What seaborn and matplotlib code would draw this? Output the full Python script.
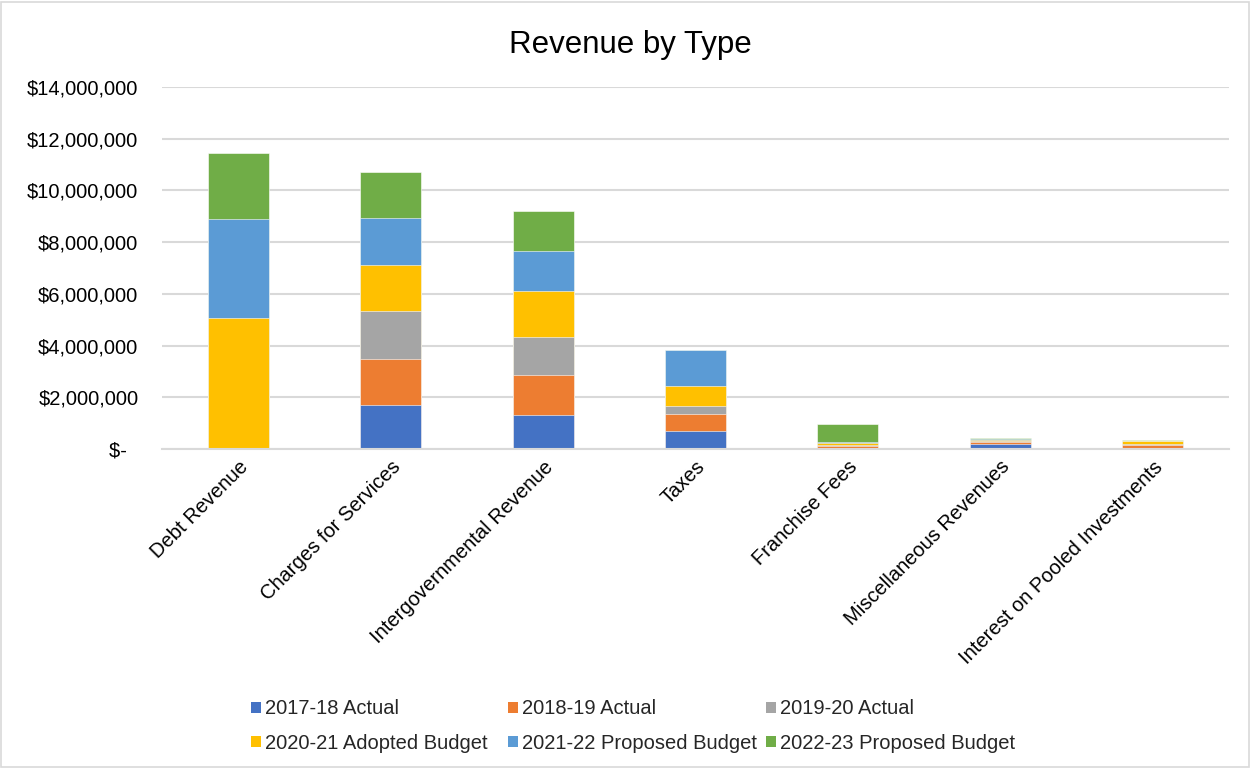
import matplotlib
matplotlib.use("Agg")
import matplotlib.pyplot as plt
from matplotlib.patches import Patch, Rectangle
from matplotlib.ticker import FuncFormatter, MultipleLocator
import seaborn as sns
import pandas as pd
import numpy as np

categories = ["Debt Revenue", "Charges for Services", "Intergovernmental Revenue",
              "Taxes", "Franchise Fees", "Miscellaneous Revenues",
              "Interest on Pooled Investments"]
series_names = ["2017-18 Actual", "2018-19 Actual", "2019-20 Actual",
                "2020-21 Adopted Budget", "2021-22 Proposed Budget",
                "2022-23 Proposed Budget"]

actual_2017_18 = [0, 1700000, 1300000, 710000, 30000, 200000, 30000]
actual_2018_19 = [0, 1770000, 1550000, 660000, 70000, 70000, 120000]
actual_2019_20 = [0, 1870000, 1480000, 300000, 60000, 20000, 30000]
adopted_2020_21 = [5050000, 1780000, 1780000, 770000, 60000, 70000, 120000]
proposed_2021_22 = [3830000, 1800000, 1560000, 1390000, 50000, 20000, 20000]
proposed_2022_23 = [2580000, 1800000, 1520000, 0, 680000, 30000, 20000]

series_values = [actual_2017_18, actual_2018_19, actual_2019_20,
                 adopted_2020_21, proposed_2021_22, proposed_2022_23]
colors = ["#4472C4", "#ED7D31", "#A5A5A5", "#FFC000", "#5B9BD5", "#70AD47"]

sns.set_theme(style="white")
plt.rcParams["font.family"] = ["Liberation Sans", "DejaVu Sans"]

fig = plt.figure(figsize=(12.51, 7.68), dpi=100)
ax = fig.add_axes([0.1295, 0.4154, 0.8529, 0.4713])

cum = np.cumsum(np.array(series_values, dtype=float), axis=0)
# draw from the top of the stack downward so lower segments overlay
for i in range(len(series_names) - 1, -1, -1):
    df = pd.DataFrame({"category": categories, "value": cum[i]})
    sns.barplot(data=df, x="category", y="value", order=categories,
                color=colors[i], saturation=1, width=0.4, ax=ax,
                edgecolor="white", linewidth=0.4, errorbar=None)

ax.set_ylim(0, 14000000)
ax.set_xlim(-0.5, len(categories) - 0.5)
ax.yaxis.set_major_locator(MultipleLocator(2000000))

def fmt(v, pos):
    if abs(v) < 1:
        return "$-  "
    return "${:,.0f}".format(v)

ax.yaxis.set_major_formatter(FuncFormatter(fmt))
ax.grid(axis="y", color="#D9D9D9", linewidth=1.5)
ax.grid(axis="x", visible=False)
ax.set_axisbelow(True)
for s in ["top", "right", "left"]:
    ax.spines[s].set_visible(False)
ax.spines["bottom"].set_color("#D9D9D9")
ax.spines["bottom"].set_linewidth(1.5)
ax.set_xlabel("")
ax.set_ylabel("")
ax.tick_params(axis="y", length=0, pad=17, labelsize=14.5, labelcolor="black")
ax.tick_params(axis="x", length=0, pad=6, labelsize=14.5, labelcolor="black")
ax.set_xticks(range(len(categories)))
ax.set_xticklabels(categories, rotation=45, ha="right", va="top",
                   rotation_mode="anchor")

fig.text(0.504, 0.941, "Revenue by Type", ha="center", va="center",
         fontsize=22.5, color="black")

handles = [Patch(facecolor=c, edgecolor="none") for c in colors]
col_x = [251 / 1251, 508 / 1251, 766 / 1251]
for c in range(3):
    idx = [c, c + 3]
    leg = fig.legend([handles[i] for i in idx], [series_names[i] for i in idx],
                     loc="center left", bbox_to_anchor=(col_x[c], 0.0545),
                     ncol=1, frameon=False, fontsize=14.5, handlelength=0.5,
                     handleheight=0.5, handletextpad=0.2, labelspacing=0.77,
                     borderaxespad=0, borderpad=0)

fig.add_artist(Rectangle((0.0008, 0.0013), 0.9976, 0.9961,
                         transform=fig.transFigure, fill=False,
                         edgecolor="#D9D9D9", linewidth=1.2))

fig.savefig("out.png", dpi=100)
